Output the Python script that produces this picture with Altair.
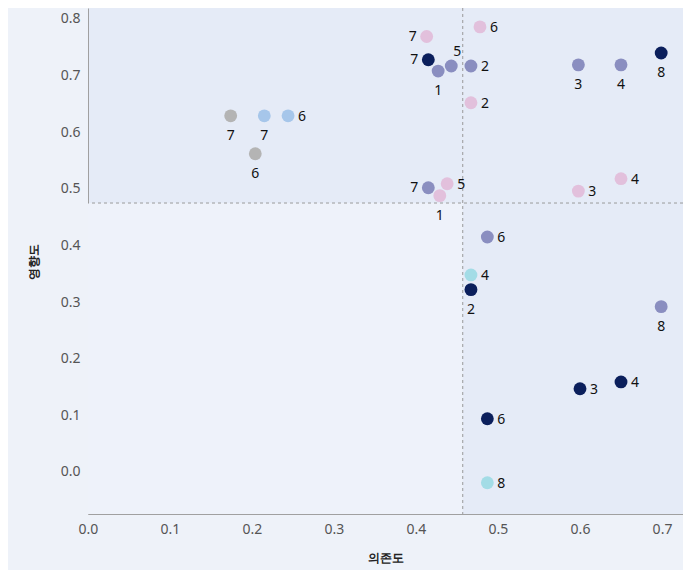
import altair as alt
import pandas as pd

# ---- data ----
series_names = ["분홍", "보라", "남색", "하늘", "회색", "연파랑"]
series_colors = ["#E2C0DC", "#8A8EC0", "#0B1F5C", "#A3DCE6", "#B4B4B4", "#A6C6EA"]

pink_x = [0.413, 0.478, 0.467, 0.438, 0.429, 0.598, 0.650]
pink_y = [0.769, 0.786, 0.652, 0.509, 0.488, 0.496, 0.518]
pink_lab = ["7", "6", "2", "5", "1", "3", "4"]
pink_pos = ["left", "right", "right", "right", "below", "right", "right"]

purple_x = [0.427, 0.443, 0.467, 0.598, 0.650, 0.415, 0.487, 0.699]
purple_y = [0.708, 0.717, 0.717, 0.719, 0.719, 0.502, 0.415, 0.292]
purple_lab = ["1", "5", "2", "3", "4", "7", "6", "8"]
purple_pos = ["below", "aboveright", "right", "below", "below", "left", "right", "below"]

navy_x = [0.415, 0.699, 0.467, 0.600, 0.650, 0.487]
navy_y = [0.728, 0.740, 0.322, 0.147, 0.159, 0.094]
navy_lab = ["7", "8", "2", "3", "4", "6"]
navy_pos = ["left", "below", "below", "right", "right", "right"]

cyan_x = [0.467, 0.487]
cyan_y = [0.348, -0.019]
cyan_lab = ["4", "8"]
cyan_pos = ["right", "right"]

gray_x = [0.174, 0.204]
gray_y = [0.629, 0.562]
gray_lab = ["7", "6"]
gray_pos = ["below", "below"]

lblue_x = [0.215, 0.244]
lblue_y = [0.629, 0.629]
lblue_lab = ["7", "6"]
lblue_pos = ["below", "right"]

x_mean = 0.457
y_mean = 0.475
x_domain = [0.0, 0.7256]
y_domain = [-0.0742, 0.8194]

rows = []
for name, xs, ys, labs, poss in [
    (series_names[0], pink_x, pink_y, pink_lab, pink_pos),
    (series_names[1], purple_x, purple_y, purple_lab, purple_pos),
    (series_names[2], navy_x, navy_y, navy_lab, navy_pos),
    (series_names[3], cyan_x, cyan_y, cyan_lab, cyan_pos),
    (series_names[4], gray_x, gray_y, gray_lab, gray_pos),
    (series_names[5], lblue_x, lblue_y, lblue_lab, lblue_pos),
]:
    for xv, yv, lb, ps in zip(xs, ys, labs, poss):
        rows.append({"series": name, "x": xv, "y": yv, "label": lb, "pos": ps})
df = pd.DataFrame(rows)

FONT = "Noto Sans"
xs = alt.Scale(domain=x_domain, nice=False, zero=False)
ys = alt.Scale(domain=y_domain, nice=False, zero=False)

xaxis = alt.Axis(title="의존도", values=[0, 0.1, 0.2, 0.3, 0.4, 0.5, 0.6, 0.7], format=".1f",
                 grid=False, ticks=False, domainColor="#A0A0A0", labelColor="#555555",
                 labelFontSize=14, labelPadding=8, titleFontSize=12, titleFontWeight="bold",
                 titleColor="#222222", titlePadding=16, labelFont=FONT, titleFont=FONT,
                 labelFlush=False, labelOverlap=False)
yaxis = alt.Axis(title="영향도", values=[0, 0.1, 0.2, 0.3, 0.4, 0.5, 0.6, 0.7, 0.8], format=".1f",
                 grid=False, ticks=False, domainColor="#A0A0A0", labelColor="#555555",
                 labelFontSize=14, labelPadding=8, titleFontSize=12, titleFontWeight="bold",
                 titleColor="#222222", titlePadding=20, labelFont=FONT, titleFont=FONT,
                 labelFlush=False, labelOverlap=False)

# quadrant background (lighter bottom-left quadrant)
quad = pd.DataFrame({"x1": [x_domain[0]], "x2": [x_mean], "y1": [y_domain[0]], "y2": [y_mean]})
quad_layer = alt.Chart(quad).mark_rect(color="#EEF2FA").encode(
    x=alt.X("x1:Q", scale=xs, axis=xaxis), x2="x2", y=alt.Y("y1:Q", scale=ys, axis=yaxis), y2="y2")

vline = alt.Chart(pd.DataFrame({"v": [x_mean]})).mark_rule(
    color="#9A9A9A", strokeDash=[3, 3], strokeWidth=1).encode(x=alt.X("v:Q", scale=xs))
hline = alt.Chart(pd.DataFrame({"v": [y_mean]})).mark_rule(
    color="#9A9A9A", strokeDash=[3, 3], strokeWidth=1).encode(y=alt.Y("v:Q", scale=ys))

color = alt.Color("series:N", scale=alt.Scale(domain=series_names, range=series_colors), legend=None)
points = alt.Chart(df).mark_circle(size=165, opacity=1).encode(
    x=alt.X("x:Q", scale=xs), y=alt.Y("y:Q", scale=ys), color=color)

def labels(pos, **kw):
    return alt.Chart(df).transform_filter(alt.datum.pos == pos).mark_text(
        font=FONT, fontSize=14, color="#111111", **kw).encode(
        x=alt.X("x:Q", scale=xs), y=alt.Y("y:Q", scale=ys), text="label:N")

lab_right = labels("right", align="left", baseline="middle", dx=10, dy=1)
lab_left = labels("left", align="right", baseline="middle", dx=-10, dy=0)
lab_below = labels("below", align="center", baseline="middle", dx=0, dy=20)
lab_ar = labels("aboveright", align="left", baseline="middle", dx=2, dy=-14)

chart = alt.layer(quad_layer, vline, hline, points, lab_right, lab_left, lab_below, lab_ar).properties(
    width=595, height=506,
    background="#EEF2F9",
    padding={"left": 80, "top": 0, "right": 0, "bottom": 56},
    autosize=alt.AutoSizeParams(type="none"),
).configure_view(fill="#E5EBF7", stroke=None)

chart.save("out.html", embed_options={"renderer": "svg", "actions": False})
